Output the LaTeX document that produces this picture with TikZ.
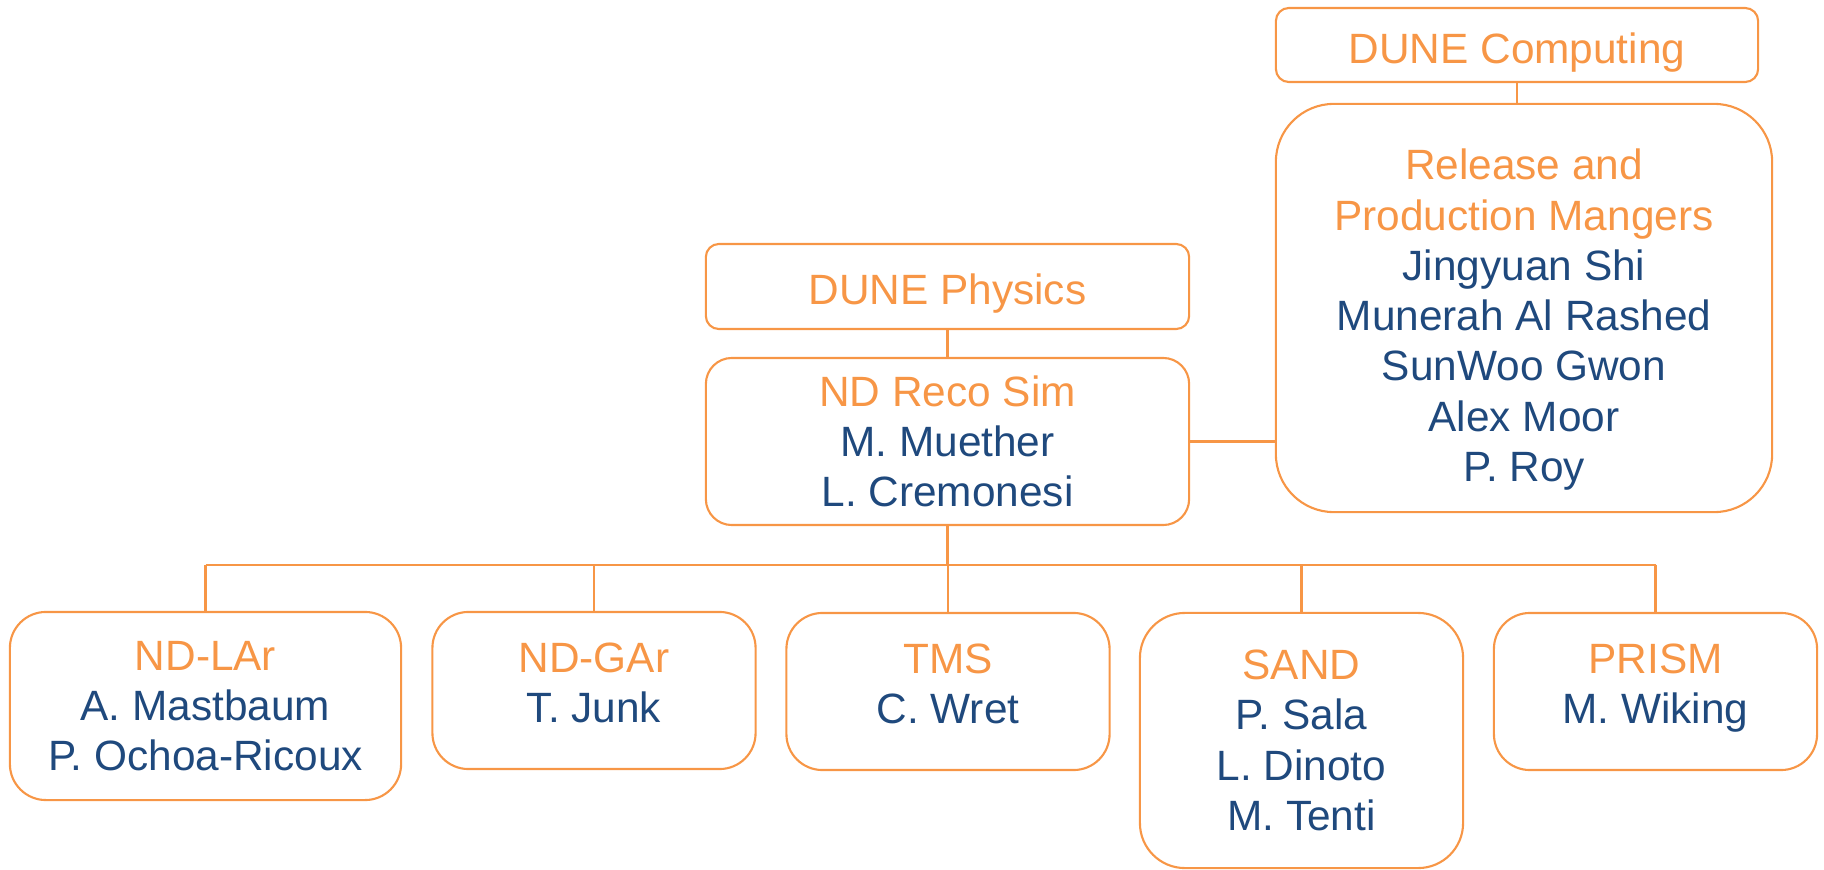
\documentclass[tikz,border=0pt]{standalone}
\usepackage{fontspec}
\setmainfont{Liberation Sans}
\usetikzlibrary{positioning,calc}
\definecolor{duneorange}{HTML}{F79646}
\definecolor{duneblue}{HTML}{1F497D}
\newcommand{\hd}[1]{\textcolor{duneorange}{#1}}

\begin{document}
\begin{tikzpicture}[
  x=0.01cm,y=-0.01cm,
  every node/.style={font=\fontsize{12.05}{14.3}\selectfont},
  box/.style={draw=duneorange,line width=0.6pt,align=center,inner sep=0pt,text=duneblue},
  small/.style={box,rounded corners=0.13cm,text height=0.45cm},
  group/.style={box,minimum width=3.23cm,minimum height=1.57cm,rounded corners=0.36cm},
  link/.style={draw=duneorange,line width=0.6pt}
]
\useasboundingbox (0,0) rectangle (1824,870);

% top right
\node[small,minimum width=4.82cm,minimum height=0.74cm] (comp) at (1517,45) {\hd{DUNE Computing}};
\node[box,minimum width=4.96cm,minimum height=4.08cm,rounded corners=0.58cm] (rel) at (1524,308)
  {\rule{0pt}{0.54cm}\hd{Release and}\\\hd{Production Mangers}\\Jingyuan Shi\\Munerah Al Rashed\\SunWoo Gwon\\Alex Moor\\P. Roy};

% middle
\node[small,minimum width=4.83cm,minimum height=0.85cm] (phys) at (947.5,286.5) {\hd{DUNE Physics}};
\node[box,minimum width=4.83cm,minimum height=1.67cm,rounded corners=0.26cm] (reco) at (947.5,441.5)
  {\hd{ND Reco Sim}\\M. Muether\\L. Cremonesi};

% bottom row
\node[group,minimum width=3.91cm,minimum height=1.88cm] (lar) at (205.5,706)
  {\hd{ND-LAr}\\A. Mastbaum\\P. Ochoa-Ricoux};
\node[group,text depth=0.16cm] (gar) at (594,690.5) {\hd{ND-GAr}\\T. Junk};
\node[group,text depth=0.16cm] (tms) at (948,691.5) {\hd{TMS}\\C. Wret};
\node[group,minimum height=2.55cm,rounded corners=0.45cm] (sand) at (1301.5,740.5)
  {\hd{SAND}\\P. Sala\\L. Dinoto\\M. Tenti};
\node[group,text depth=0.16cm] (prism) at (1655.5,691.5) {\hd{PRISM}\\M. Wiking};

% connectors
\draw[link] (comp.south) -- (comp.south |- rel.north);
\draw[link] (phys.south) -- (reco.north);
\draw[link] (reco.east) -- (reco.east -| rel.west);
\draw[link] (reco.south) -- ++(0,38.5) coordinate (bus);
\draw[link] (bus -| lar.north) -- (bus -| prism.north);
\foreach \c in {lar,gar,tms,sand,prism}
  \draw[link] (bus -| \c.north) -- (\c.north);

\end{tikzpicture}
\end{document}
